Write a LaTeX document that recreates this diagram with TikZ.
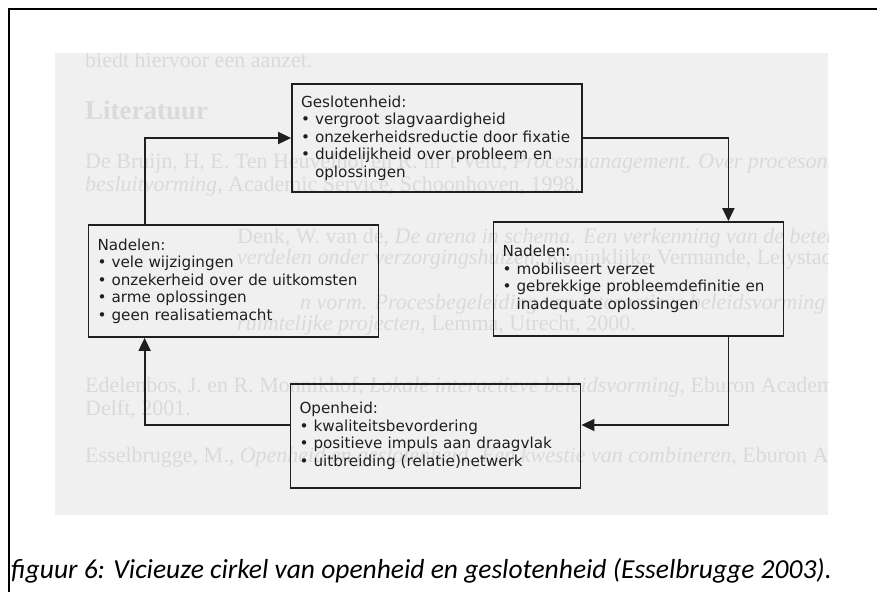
\documentclass[tikz,border=0pt]{standalone}
\usepackage{fontspec}
\setmainfont{DejaVu Sans}
\newfontfamily\capfont{Carlito}
\newfontfamily\pagefont{Liberation Serif}
\usetikzlibrary{arrows.meta,calc}

\definecolor{paper}{gray}{0.94}
\definecolor{ghost}{gray}{0.855}
\definecolor{ink}{gray}{0.12}

\newcommand{\itm}{\textbullet\ }
\newcommand{\hang}{\phantom{\textbullet\ }}

\begin{document}
\begin{tikzpicture}[x=1pt,y=-1pt,
  box/.style={draw=ink, line width=1.8pt, rectangle, minimum width=290pt,
    text width=272pt, inner xsep=9pt, inner ysep=0pt, align=left,
    font=\fontsize{15.2}{17.5}\selectfont, text=ink},
  link/.style={draw=ink, line width=1.8pt, -{Triangle[length=13pt,width=12pt]}},
  ghosttext/.style={anchor=base west, inner sep=0pt, text=ghost,
    font=\pagefont\fontsize{22}{23}\selectfont},
]
\useasboundingbox (0,0) rectangle (877,592);
\fill[white] (0,0) rectangle (877,592);

% scanned page behind the scheme
\fill[paper] (55,53) rectangle (828,515);
\begin{scope}
  \clip (55,53) rectangle (828,515);
  \node[ghosttext] (g1) at (85,67) {biedt hiervoor een aanzet.};
  \node[ghosttext, font=\pagefont\bfseries\fontsize{27}{29}\selectfont] (g2) at (85,119) {Literatuur};
  \node[ghosttext] (g3) at (85,168) {De Bruijn, H, E. Ten Heuvelhof en R. in 't Veld, \textit{Procesmanagement. Over procesontwerp en}};
  \node[ghosttext] (g4) at (85,191) {\textit{besluitvorming}, Academic Service, Schoonhoven, 1998.};
  \node[ghosttext] (g5) at (237,243) {Denk, W. van de, \textit{De arena in schema. Een verkenning van de betekenis van informatie}};
  \node[ghosttext] (g6) at (237,264) {\textit{verdelen onder verzorgingshuizen}, Koninklijke Vermande, Lelystad, 1998.};
  \node[ghosttext] (g7) at (300,309) {\textit{n vorm. Procesbegeleiding van interactieve beleidsvorming over}};
  \node[ghosttext] (g8) at (237,330) {\textit{ruimtelijke projecten}, Lemma, Utrecht, 2000.};
  \node[ghosttext] (g9) at (85,392) {Edelenbos, J. en R. Monnikhof, \textit{Lokale interactieve beleidsvorming}, Eburon Academic Publishers,};
  \node[ghosttext] (g10) at (85,415) {Delft, 2001.};
  \node[ghosttext] (g11) at (85,462) {Esselbrugge, M., \textit{Openheid en geslotenheid. Een kwestie van combineren}, Eburon Academic Publishers,};
\end{scope}

% frame
\draw[line width=2.5pt] (9,592) -- (9,9) -- (877,9);

% the four boxes of the cycle
\node[box, minimum height=108pt] (tb) at (437,138) {Geslotenheid:\\
  \itm vergroot slagvaardigheid\\
  \itm onzekerheidsreductie door fixatie\\
  \itm duidelijkheid over probleem en\\
  \hang oplossingen};
\node[box, minimum height=112pt] (lb) at (233.5,281) {Nadelen:\\
  \itm vele wijzigingen\\
  \itm onzekerheid over de uitkomsten\\
  \itm arme oplossingen\\
  \itm geen realisatiemacht};
\node[box, minimum height=114pt] (rb) at (638.5,279) {Nadelen:\\
  \itm mobiliseert verzet\\
  \itm gebrekkige probleemdefinitie en\\
  \hang inadequate oplossingen};
\node[box, minimum height=104pt] (bb) at (435.5,436) {Openheid:\\
  \itm kwaliteitsbevordering\\
  \itm positieve impuls aan draagvlak\\
  \itm uitbreiding (relatie)netwerk};

% connectors
\draw[link] ($(lb.north west)+(57,0)$) |- (tb.west);
\draw[link] (tb.east) -| ($(rb.north east)+(-56,0)$);
\draw[link] ($(rb.south east)+(-56,0)$) |- ($(bb.east)+(0,-11)$);
\draw[link] ($(bb.west)+(0,-11)$) -| ($(lb.south west)+(57,0)$);

% caption
\node[anchor=base west, inner sep=0pt, font=\capfont\itshape\fontsize{27.5}{29}\selectfont] (cap) at (11,578)
  {figuur 6: Vicieuze cirkel van openheid en geslotenheid (Esselbrugge 2003).};
\end{tikzpicture}
\end{document}
